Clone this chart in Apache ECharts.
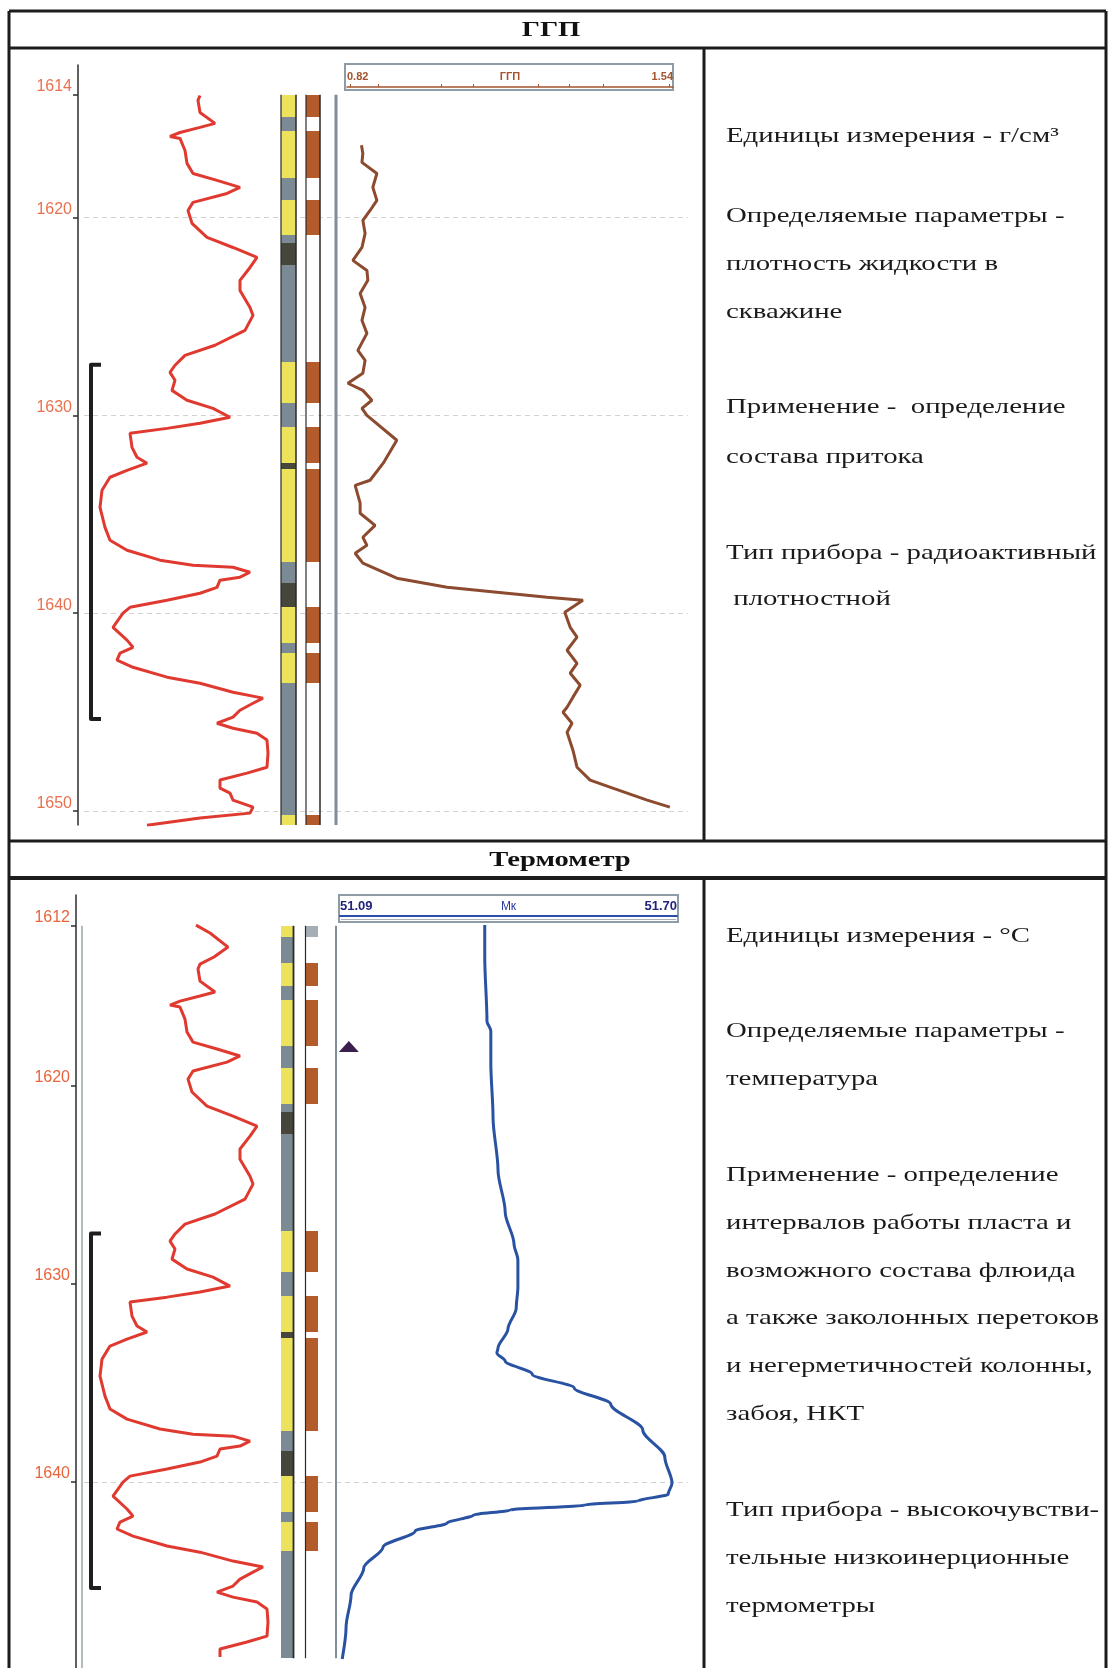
<!DOCTYPE html>
<html>
<head>
<meta charset="utf-8">
<script src="https://cdn.jsdelivr.net/npm/echarts@6.0.0/dist/echarts.min.js"></script>
<style>
html, body { margin: 0; padding: 0; background: #fff; }
#chart { width: 1108px; height: 1668px; }
</style>
</head>
<body>
<div id="chart"></div>
<script>
// глубины, м
const upperRange = [1613.8, 1650.7];   // интервал записи, верхняя панель
const lowerRange = [1611.9, 1648.9];   // интервал записи, нижняя панель
const upperAxis = [1612.3, 1650.7];
const lowerAxis = [1610.35, 1649.39];
const upperTicks = [1613.8, 1620, 1630, 1640, 1650];
const lowerTicks = [1611.9, 1620, 1630, 1640];
const upperGridLines = [1620, 1630, 1640, 1650];
const lowerGridLines = [1640];

// ГК (усл. ед.)
const gkDepth = [1613.84,1614.09,1614.70,1615.25,1615.45,1615.71,1615.91,1616.01,1616.62,1617.27,
  1617.78,1618.13,1618.48,1618.79,1619.24,1619.65,1620.30,1621.01,1621.52,1622.02,
  1622.53,1623.18,1623.69,1624.55,1624.95,1625.71,1626.46,1626.97,1627.47,1627.83,
  1628.23,1628.74,1629.24,1629.65,1630.10,1630.40,1630.66,1630.91,1631.62,1632.12,
  1632.42,1632.78,1633.13,1633.79,1634.65,1635.66,1636.31,1636.82,1637.32,1637.58,
  1637.68,1637.93,1638.18,1638.33,1638.69,1638.99,1639.34,1639.70,1640.00,1640.71,
  1641.36,1641.72,1642.02,1642.37,1642.73,1643.23,1643.54,1643.99,1644.29,1644.55,
  1644.90,1645.25,1645.56,1645.81,1646.06,1646.41,1647.07,1647.78,1648.08,1648.43,
  1648.84,1649.09,1649.44,1649.80,1650.10,1650.35,1650.71];
const gkValue = [110,108,110,125,110,90,80,90,95,97,
  103,127,150,137,103,98,102,117,143,167,
  160,150,150,160,163,155,125,95,85,80,
  85,82,97,123,140,110,77,40,42,47,
  57,37,20,12,10,15,20,37,70,103,
  143,160,150,130,127,110,77,40,33,23,
  37,43,30,27,43,77,110,143,173,163,
  150,143,127,143,167,177,178,177,157,130,
  130,140,143,163,160,110,57];
const gkTopDepth = [1611.87, 1612.27, 1612.98, 1613.48];
const gkTopValue = [106, 120, 138, 124];

// ГГП, г/см3
const densScale = [0.82, 1.54];
const densTicks = [0.827, 0.888, 1.028, 1.098, 1.242, 1.310, 1.385, 1.531];
const densDepth = [1616.36,1616.77,1617.22,1617.78,1618.48,1619.14,1619.65,1620.15,1620.81,1621.52,
  1622.17,1622.68,1623.18,1623.84,1624.55,1625.20,1625.86,1626.72,1627.22,1627.88,
  1628.38,1628.74,1629.24,1629.65,1630.00,1631.26,1632.42,1633.28,1633.54,1634.44,
  1634.95,1635.56,1636.16,1636.57,1636.97,1637.47,1638.23,1638.69,1638.94,1639.19,
  1639.34,1639.95,1640.71,1641.21,1641.87,1642.53,1643.03,1643.64,1644.24,1644.75,
  1645.00,1645.56,1646.01,1646.92,1647.78,1648.43,1648.84,1649.44,1649.80];
const densValue = [0.852,0.855,0.853,0.886,0.877,0.886,0.871,0.855,0.860,0.853,
  0.833,0.864,0.866,0.849,0.860,0.853,0.864,0.844,0.860,0.855,
  0.822,0.855,0.875,0.853,0.864,0.930,0.900,0.871,0.838,0.849,
  0.849,0.882,0.855,0.864,0.838,0.855,0.930,1.041,1.151,1.262,
  1.341,1.301,1.313,1.328,1.306,1.328,1.313,1.335,1.319,1.306,
  1.297,1.317,1.306,1.319,1.328,1.357,1.407,1.483,1.533];

// термометр, °C
const tempScale = [51.09, 51.70];
const tempDepth = [1611.87,1613.48,1616.72,1617.22,1618.84,1621.57,1624.24,1626.36,1627.98,1628.79,
  1630.15,1631.21,1632.27,1633.23,1633.48,1633.89,1634.55,1635.25,1636.06,1637.37,
  1638.74,1640.05,1640.61,1640.96,1641.16,1641.41,1641.67,1642.07,1642.47,1643.28,
  1644.34,1645.71,1647.32,1648.94];
const tempValue = [51.352,51.352,51.356,51.363,51.363,51.367,51.376,51.389,51.405,51.412,
  51.412,51.409,51.394,51.376,51.374,51.389,51.438,51.514,51.580,51.638,
  51.678,51.691,51.684,51.629,51.533,51.398,51.331,51.284,51.226,51.168,
  51.133,51.110,51.101,51.094];
const marker = [51.106, 1618.0];

// литология: Y - коллектор, G - глина, D - плотные
const lithoFrom = [1611.87,1612.47,1613.8,1614.95,1615.65,1618.0,1619.1,1620.9,1621.3,1622.4,1627.3,1629.4,1630.6,1632.4,1632.7,1637.4,1638.45,1639.7,1641.5,1642.0,1643.5,1650.2];
const lithoTo   = [1612.47,1613.8,1614.95,1615.65,1618.0,1619.1,1620.9,1621.3,1622.4,1627.3,1629.4,1630.6,1632.4,1632.7,1637.4,1638.45,1639.7,1641.5,1642.0,1643.5,1650.2,1650.7];
const lithoKind = ['Y','G','Y','G','Y','G','Y','G','D','G','Y','G','Y','D','Y','G','D','Y','G','Y','G','Y'];

// насыщение / перфорация
const perfFrom = [1611.87,1613.8,1615.65,1619.1,1627.3,1630.6,1632.7,1639.7,1642.0,1650.2];
const perfTo   = [1612.47,1614.95,1618.0,1620.9,1629.4,1632.4,1637.4,1641.5,1643.5,1650.7];
const perfKind = ['L','B','B','B','B','B','B','B','B','B'];

const interval = [1627.45, 1645.35];

const lithoColors = { Y: '#ede25c', G: '#7c8a93', D: '#47463a' };
const perfColors = { B: '#b35b2b', L: '#a4aeb4' };

let clipIv = (a, b, r) => {
    let t = Math.max(a, r[0]), u = Math.min(b, r[1]);
    return u > t ? [t, u] : null;
};

let boxes = (axis, from, to, kind, colors, range, x, w) => ({
    type: 'custom', xAxisIndex: axis, yAxisIndex: axis, z: 3, silent: true,
    data: from.map((f, i) => [0, f, to[i]]),
    renderItem: (params, api) => {
        let i = params.dataIndex;
        let iv = clipIv(from[i], to[i], range);
        if (!iv) return;
        let y0 = Math.round(api.coord([0, iv[0]])[1]);
        let y1 = Math.round(api.coord([0, iv[1]])[1]);
        return { type: 'rect', shape: { x: x, y: y0, width: w, height: y1 - y0 }, style: { fill: colors[kind[i]] } };
    }
});

let vlines = (axis, range, lines) => ({
    type: 'custom', xAxisIndex: axis, yAxisIndex: axis, z: 4, silent: true,
    data: [[0, range[0]]],
    renderItem: (params, api) => {
        let y0 = api.coord([0, range[0]])[1];
        let y1 = api.coord([0, range[1]])[1];
        return {
            type: 'group',
            children: lines.map(l => ({
                type: 'line',
                shape: { x1: l[0], y1: y0, x2: l[0], y2: y1 },
                style: { stroke: l[1], lineWidth: l[2] }
            }))
        };
    }
});

let dashes = (axis, depths) => ({
    type: 'custom', xAxisIndex: axis, yAxisIndex: axis, z: 1, silent: true,
    data: depths.map(d => [0, d]),
    renderItem: (params, api) => {
        let y = Math.round(api.coord([0, depths[params.dataIndex]])[1]) + 0.5;
        return { type: 'line', shape: { x1: 84, y1: y, x2: 688, y2: y }, style: { stroke: '#d2d2d2', lineWidth: 1, lineDash: [5, 4] } };
    }
});

let bracket = axis => ({
    type: 'custom', xAxisIndex: axis, yAxisIndex: axis, z: 4, silent: true,
    data: [[0, interval[0]]],
    renderItem: (params, api) => {
        let y0 = api.coord([0, interval[0]])[1];
        let y1 = api.coord([0, interval[1]])[1];
        return { type: 'polyline', shape: { points: [[101, y0], [91, y0], [91, y1], [101, y1]] },
            style: { stroke: '#1e1e1e', lineWidth: 4, fill: null, lineJoin: 'round' } };
    }
});

let depthAxis = (grid, range, ticks, color) => ({
    gridIndex: grid, type: 'value', inverse: true, min: range[0], max: range[1], position: 'left',
    axisLine: { show: true, onZero: false, lineStyle: { color: '#2b2b2b', width: 1.5 } },
    axisTick: { show: true, customValues: ticks, length: 5, lineStyle: { color: '#2b2b2b', width: 1.5 } },
    axisLabel: { customValues: ticks, formatter: v => String(Math.round(v)), color: color,
        fontFamily: 'Liberation Sans', fontSize: 16, verticalAlign: 'bottom', margin: 6 },
    splitLine: { show: false }
});
let hiddenY = (grid, range) => ({ gridIndex: grid, type: 'value', inverse: true, min: range[0], max: range[1], show: false });
let hiddenX = (grid, max) => ({ gridIndex: grid, type: 'value', min: 0, max: max, show: false });

const NOTE_FONT = '22px "Liberation Serif"';
const NOTE_SCALE = 1.31;
const upperNotes = [
    ['Единицы измерения - г/см³', 136],
    ['Определяемые параметры -', 216],
    ['плотность жидкости в', 264],
    ['скважине', 312],
    ['Применение -  определение', 407],
    ['состава притока', 457],
    ['Тип прибора - радиоактивный', 553],
    [' плотностной', 599]
];
const lowerNotes = [
    ['Единицы измерения - °С', 936],
    ['Определяемые параметры -', 1031],
    ['температура', 1079],
    ['Применение - определение', 1175],
    ['интервалов работы пласта и', 1223],
    ['возможного состава флюида', 1271],
    ['а также заколонных перетоков', 1318],
    ['и негерметичностей колонны,', 1366],
    ['забоя, НКТ', 1414],
    ['Тип прибора - высокочувстви-', 1510],
    ['тельные низкоинерционные', 1558],
    ['термометры', 1606]
];

let line = (x1, y1, x2, y2, w) => ({ type: 'line', shape: { x1, y1, x2, y2 }, style: { stroke: '#1c1c1c', lineWidth: w }, z: 100 });
let note = (t) => ({ type: 'text', x: 726, y: t[1], scaleX: NOTE_SCALE,
    style: { text: t[0], font: NOTE_FONT, fill: '#1a1a1a', textAlign: 'left', textVerticalAlign: 'middle' } });

let graphics = [
    line(9, 11, 1106, 11, 3),
    line(9, 11, 9, 1668, 3),
    line(1106, 11, 1106, 1668, 3),
    line(9, 48, 1106, 48, 3),
    line(704, 48, 704, 841, 3),
    line(9, 841, 1106, 841, 3),
    line(9, 878, 1106, 878, 4),
    line(704, 878, 704, 1668, 3),
    { type: 'text', x: 551, y: 30, scaleX: 1.3, style: { text: 'ГГП', font: 'bold 22px "Liberation Serif"', fill: '#111', textAlign: 'center', textVerticalAlign: 'middle' } },
    { type: 'text', x: 560, y: 860, scaleX: 1.3, style: { text: 'Термометр', font: 'bold 22px "Liberation Serif"', fill: '#111', textAlign: 'center', textVerticalAlign: 'middle' } },
    { type: 'rect', shape: { x: 345, y: 64, width: 328, height: 26 }, style: { fill: null, stroke: '#8d9ca6', lineWidth: 2 } },
    { type: 'rect', shape: { x: 339, y: 895, width: 339, height: 27 }, style: { fill: null, stroke: '#8d9ca6', lineWidth: 2 } },
    { type: 'line', shape: { x1: 341, y1: 919.5, x2: 676, y2: 919.5 }, style: { stroke: '#a8b2b8', lineWidth: 1 } }
].concat(upperNotes.map(note), lowerNotes.map(note));

let option = {
    animation: false,
    backgroundColor: '#fff',
    graphic: { elements: graphics },
    grid: [
        { left: 78, top: 65, width: 610, height: 760 },     // 0 глубины, верх
        { left: 90, top: 65, width: 190, height: 760 },     // 1 ГК, верх
        { left: 347, top: 65, width: 326, height: 760 },    // 2 ГГП
        { left: 76, top: 895, width: 612, height: 773 },    // 3 глубины, низ
        { left: 90, top: 895, width: 190, height: 773 },    // 4 ГК, низ
        { left: 340, top: 895, width: 337, height: 773 }    // 5 термометр
    ],
    xAxis: [
        hiddenX(0, 1),
        hiddenX(1, 190),
        {
            gridIndex: 2, type: 'value', position: 'top', offset: -22, min: densScale[0], max: densScale[1],
            axisLine: { show: true, lineStyle: { color: '#a4532e', width: 1.5 } },
            axisTick: { show: true, customValues: densTicks, length: 3, lineStyle: { color: '#a4532e' } },
            axisLabel: { customValues: densScale, formatter: v => v.toFixed(2), alignMinLabel: 'left', alignMaxLabel: 'right',
                margin: 5, color: '#a4532e', fontSize: 11, fontWeight: 'bold', fontFamily: 'Liberation Sans' },
            splitLine: { show: false },
            name: 'ГГП', nameLocation: 'middle', nameGap: 5, nameMoveOverlap: false,
            nameTextStyle: { color: '#a4532e', fontSize: 11, fontWeight: 'bold', fontFamily: 'Liberation Sans', verticalAlign: 'bottom' }
        },
        hiddenX(3, 1),
        hiddenX(4, 190),
        {
            gridIndex: 5, type: 'value', position: 'top', offset: -21, min: tempScale[0], max: tempScale[1],
            axisLine: { show: true, lineStyle: { color: '#2a4fa8', width: 2 } },
            axisTick: { show: false },
            axisLabel: { customValues: tempScale, formatter: v => v.toFixed(2), alignMinLabel: 'left', alignMaxLabel: 'right',
                margin: 3, color: '#23237a', fontSize: 13, fontWeight: 'bold', fontFamily: 'Liberation Sans' },
            splitLine: { show: false },
            name: 'Мк', nameLocation: 'middle', nameGap: 3, nameMoveOverlap: false,
            nameTextStyle: { color: '#2a3a9a', fontSize: 12, fontFamily: 'Liberation Sans', verticalAlign: 'bottom' }
        }
    ],
    yAxis: [
        depthAxis(0, upperAxis, upperTicks, '#e8714e'),
        hiddenY(1, upperAxis),
        hiddenY(2, upperAxis),
        depthAxis(3, lowerAxis, lowerTicks, '#e8643c'),
        hiddenY(4, lowerAxis),
        hiddenY(5, lowerAxis)
    ],
    series: [
        // верхняя панель
        dashes(0, upperGridLines),
        boxes(0, lithoFrom, lithoTo, lithoKind, lithoColors, upperRange, 281, 15),
        boxes(0, perfFrom, perfTo, perfKind, perfColors, upperRange, 306, 14),
        vlines(0, upperRange, [[281, '#2a2a2a', 1.2], [296, '#2a2a2a', 1.5], [306, '#2a2a2a', 1.2], [320, '#2a2a2a', 1.5], [336, '#7f8e98', 3]]),
        bracket(0),
        {
            type: 'line', xAxisIndex: 1, yAxisIndex: 1, z: 5, silent: true,
            data: gkDepth.map((d, i) => [gkValue[i], d]),
            showSymbol: false, symbol: 'none',
            lineStyle: { color: '#e03a30', width: 3 }
        },
        {
            type: 'line', xAxisIndex: 2, yAxisIndex: 2, z: 5, silent: true,
            data: densDepth.map((d, i) => [densValue[i], d]),
            showSymbol: false, symbol: 'none',
            lineStyle: { color: '#8c4a2f', width: 3 }
        },
        // нижняя панель
        dashes(3, lowerGridLines),
        boxes(3, lithoFrom, lithoTo, lithoKind, lithoColors, lowerRange, 281, 12),
        boxes(3, perfFrom, perfTo, perfKind, perfColors, lowerRange, 306, 12),
        vlines(3, [lowerRange[0], lowerAxis[1]], [[82, '#9aa4aa', 1.5]]),
        vlines(3, lowerRange, [[293.5, '#2a2a2a', 1.8], [305.5, '#2a2a2a', 1.2], [336, '#7f8e98', 2]]),
        bracket(3),
        {
            type: 'line', xAxisIndex: 4, yAxisIndex: 4, z: 5, silent: true,
            data: gkTopDepth.map((d, i) => [gkTopValue[i], d])
                .concat(gkDepth.map((d, i) => [gkValue[i], d]))
                .filter(p => p[1] <= lowerRange[1]),
            showSymbol: false, symbol: 'none',
            lineStyle: { color: '#e03a30', width: 3 }
        },
        {
            type: 'line', xAxisIndex: 5, yAxisIndex: 5, z: 5, silent: true,
            data: tempDepth.map((d, i) => [tempValue[i], d]),
            showSymbol: false, symbol: 'none', smooth: 0.3, smoothMonotone: 'y',
            lineStyle: { color: '#2a52a3', width: 3 }
        },
        {
            type: 'scatter', xAxisIndex: 5, yAxisIndex: 5, z: 6, silent: true,
            data: [marker], symbol: 'triangle', symbolSize: [20, 11],
            itemStyle: { color: '#3a1f4e', opacity: 1 }
        }
    ]
};

let mychart = echarts.init(document.getElementById('chart'));
mychart.setOption(option);
</script>
</body>
</html>
